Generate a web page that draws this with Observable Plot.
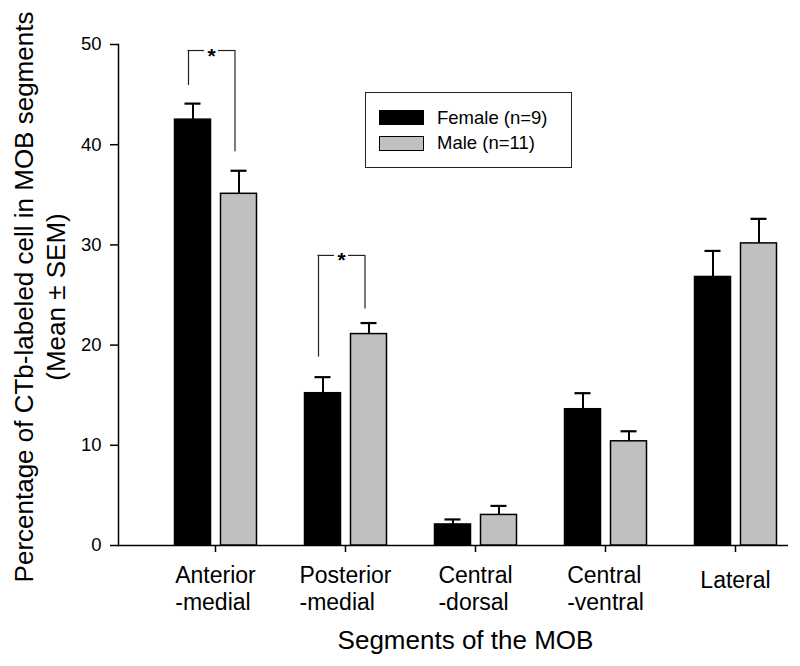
<!DOCTYPE html>
<html><head><meta charset="utf-8">
<script src="https://cdn.jsdelivr.net/npm/d3@7"></script>
<script src="https://cdn.jsdelivr.net/npm/@observablehq/plot@0.6"></script>
<style>
body{margin:0;background:#fff;}
#wrap{position:relative;width:800px;height:666px;font-family:"Liberation Sans",Arial,sans-serif;color:#000;}
#legend{position:absolute;left:365px;top:92px;width:207px;height:76px;border:1px solid #222;box-sizing:border-box;}
.sw{position:absolute;left:13px;width:45px;height:15px;box-sizing:border-box;border:1.5px solid #000;}
.lt{position:absolute;left:71px;font-size:18.5px;line-height:1;white-space:nowrap;}
</style></head><body><div id="wrap"></div>
<script>
// ---- data ----
const segments = ["Anterior-medial", "Posterior-medial", "Central-dorsal", "Central-ventral", "Lateral"];
const segmentLabels = ["Anterior\n-medial", "Posterior\n-medial", "Central\n-dorsal", "Central\n-ventral", "Lateral"];
const femaleMean = [42.5, 15.2, 2.1, 13.6, 26.8];
const femaleSem  = [1.6, 1.6, 0.5, 1.6, 2.6];
const maleMean   = [35.1, 21.1, 3.05, 10.4, 30.15];
const maleSem    = [2.3, 1.1, 0.9, 1.0, 2.45];
const yTicks = [0, 10, 20, 30, 40, 50];
const sigSegments  = ["Anterior-medial", "Posterior-medial"];
const sigTop       = [49.4, 28.95];
const sigFemaleEnd = [45.9, 18.8];
const sigMaleEnd   = [39.3, 23.6];
const sigMark = "*";
const seriesNames  = ["Female (n=9)", "Male (n=11)"];
const seriesColors = ["#000000", "#c0c0c0"];
const xTitle = "Segments of the MOB";
const yTitle = "Percentage of CTb-labeled cell in MOB segments\n(Mean \u00b1 SEM)";

// ---- tables ----
const female = segments.map((s, i) => ({segment: s, mean: femaleMean[i], hi: femaleMean[i] + femaleSem[i]}));
const male   = segments.map((s, i) => ({segment: s, mean: maleMean[i], hi: maleMean[i] + maleSem[i]}));
const sig = sigSegments.map((s, i) => ({segment: s, top: sigTop[i], fEnd: sigFemaleEnd[i], mEnd: sigMaleEnd[i]}));

// ---- layout ----
const W = 800, H = 666;
const step = 130;
const FONT = "Liberation Sans, Arial, sans-serif";
const catFont = 23;
const ctx = document.createElement("canvas").getContext("2d");
ctx.font = `${catFont}px "Liberation Sans"`;

const labelMarks = segments.map((s, i) => {
  const lines = segmentLabels[i].split("\n");
  const w = Math.max(...lines.map(l => ctx.measureText(l).width));
  return Plot.text([s], {
    x: d => d, text: () => segmentLabels[i], frameAnchor: "bottom",
    textAnchor: "start", lineAnchor: "top", lineHeight: 1.16,
    dx: -w / 2, dy: lines.length > 1 ? 18.5 : 23.5, fontSize: catFont, fill: "#000"
  });
});

const svg = Plot.plot({
  width: W, height: H,
  marginLeft: 118, marginRight: 12, marginTop: 44, marginBottom: 121,
  style: {fontFamily: FONT, background: "white", color: "#000", overflow: "visible"},
  x: {type: "band", domain: segments, range: [150, 150 + step * segments.length], padding: 0},
  y: {domain: [0, 50]},
  marks: [
    Plot.axisY({ticks: yTicks, tickSize: 8, tickPadding: 9, fontSize: 18.5, label: null, strokeWidth: 1.5, fill: "#000"}),
    Plot.axisX({tickSize: 7, tickFormat: () => "", label: null, strokeWidth: 1.5}),
    Plot.frame({anchor: "left", strokeWidth: 1.5}),
    Plot.ruleY([0], {strokeWidth: 1.5}),
    // bars
    Plot.barY(female, {x: "segment", y: "mean", fill: seriesColors[0], stroke: "#000", strokeWidth: 1.5, insetLeft: 24.5, insetRight: 69.5}),
    Plot.barY(male, {x: "segment", y: "mean", fill: seriesColors[1], stroke: "#000", strokeWidth: 1.5, insetLeft: 70.5, insetRight: 23.5}),
    // error bars
    Plot.ruleX(female, {x: "segment", y1: "mean", y2: "hi", dx: -22.5, strokeWidth: 2}),
    Plot.ruleX(male, {x: "segment", y1: "mean", y2: "hi", dx: 23.5, strokeWidth: 2}),
    Plot.tickY(female, {x: "segment", y: "hi", insetLeft: 34.5, insetRight: 79.5, strokeWidth: 2.2}),
    Plot.tickY(male, {x: "segment", y: "hi", insetLeft: 80.5, insetRight: 33.5, strokeWidth: 2.2}),
    // significance brackets
    Plot.ruleX(sig, {x: "segment", y1: "top", y2: "fEnd", dx: -27, stroke: "#222", strokeWidth: 1.2}),
    Plot.ruleX(sig, {x: "segment", y1: "top", y2: "mEnd", dx: 19.5, stroke: "#222", strokeWidth: 1.2}),
    Plot.tickY(sig, {x: "segment", y: "top", insetLeft: 37.5, insetRight: 76, stroke: "#222", strokeWidth: 1.2}),
    Plot.tickY(sig, {x: "segment", y: "top", insetLeft: 68, insetRight: 45, stroke: "#222", strokeWidth: 1.2}),
    Plot.text(sig, {x: "segment", y: "top", text: () => sigMark, dx: -4, dy: 12, lineAnchor: "bottom", fontSize: 21, fontWeight: "bold", fill: "#000"}),
    // category labels
    ...labelMarks,
    // axis titles
    Plot.text([xTitle], {text: d => d, frameAnchor: "bottom", dx: 12, dy: 103, textAnchor: "middle", lineAnchor: "bottom", fontSize: 26, fill: "#000"}),
    Plot.text([yTitle], {text: d => d, frameAnchor: "left", dx: -54, dy: 2, rotate: -90, textAnchor: "middle", lineAnchor: "bottom", lineHeight: 1.22, fontSize: 26, fill: "#000"})
  ]
});

const wrap = document.getElementById("wrap");
wrap.appendChild(svg);

// legend
const legend = document.createElement("div");
legend.id = "legend";
const tops = [[17, 15.6], [43, 41.3]];
seriesNames.forEach((name, i) => {
  const sw = document.createElement("div");
  sw.className = "sw";
  sw.style.top = tops[i][0] + "px";
  sw.style.background = seriesColors[i];
  legend.appendChild(sw);
  const t = document.createElement("div");
  t.className = "lt";
  t.style.top = tops[i][1] + "px";
  t.textContent = name;
  legend.appendChild(t);
});
wrap.appendChild(legend);
</script>
</body></html>
